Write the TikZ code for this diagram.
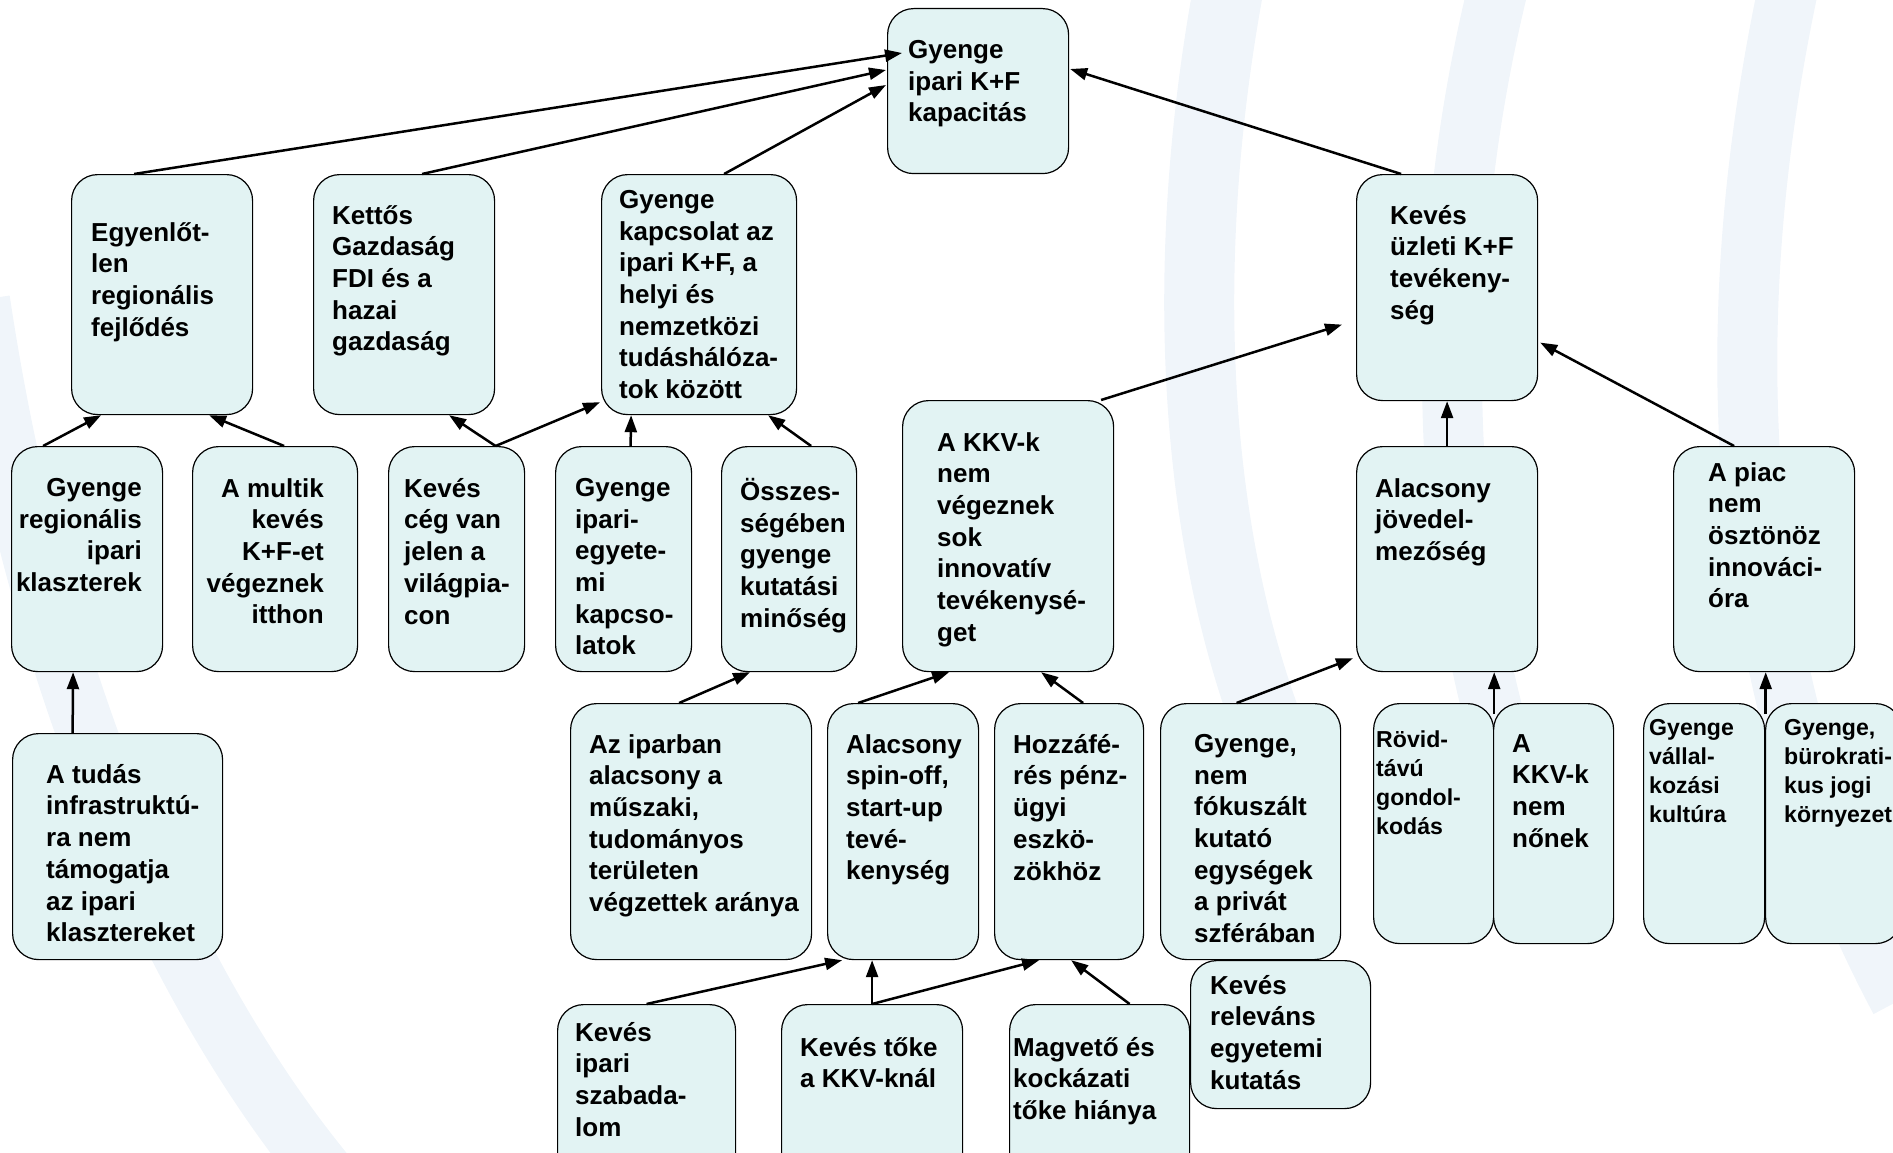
\documentclass[tikz,border=0pt]{standalone}
\usepackage{fontspec}
\setmainfont{Liberation Sans}
\usetikzlibrary{arrows.meta,calc}
\definecolor{cellfill}{RGB}{226,243,243}
\definecolor{wmblue}{RGB}{240,245,250}
\tikzset{
  cell/.style={draw=black, line width=1.2pt, rounded corners=26pt, fill=cellfill,
    inner sep=0pt, anchor=north west},
  lbl/.style={inner sep=0pt, anchor=north west, align=left, yshift=-3pt,
    font=\bfseries\fontsize{26}{31.7}\selectfont, execute at begin node=\strut},
  lblr/.style={lbl, anchor=north east, align=right},
  lbls/.style={lbl, font=\bfseries\fontsize{23.1}{29}\selectfont},
  link/.style={line width=2.5pt, -{Triangle[length=17pt,width=12pt]}}
}
\begin{document}
\begin{tikzpicture}[x=1pt,y=-1pt]
\useasboundingbox (0,0) rectangle (1893,1153);
\clip (0,0) rectangle (1893,1153);
% faint background swooshes
\draw[wmblue, line width=60pt] (-20,300) .. controls (40,700) and (180,1000) .. (330,1180);
\draw[wmblue, line width=70pt] (1230,-20) .. controls (1170,300) and (1200,600) .. (1300,800);
\draw[wmblue, line width=60pt] (1500,-20) .. controls (1420,300) and (1440,650) .. (1560,900);
\draw[wmblue, line width=60pt] (1790,-20) .. controls (1710,350) and (1740,700) .. (1900,1000);
% top
\node[cell, minimum width=181pt, minimum height=165pt] (top) at (887,8) {};
\node[lbl] at (908,37) {Gyenge\\ipari K+F\\kapacitás};
% second row
\node[cell, minimum width=181pt, minimum height=240pt] (egy) at (71,174) {};
\node[lbl] at (91,219) {Egyenlőt-\\len\\regionális\\fejlődés};
\node[cell, minimum width=181pt, minimum height=240pt] (kettos) at (313,174) {};
\node[lbl] at (332,202) {Kettős\\Gazdaság\\FDI és a\\hazai\\gazdaság};
\node[cell, minimum width=195pt, minimum height=240pt] (kapcs) at (601,174) {};
\node[lbl] at (619,187) {Gyenge\\kapcsolat az\\ipari K+F, a\\helyi és\\nemzetközi\\tudáshálóza-\\tok között};
\node[cell, minimum width=181pt, minimum height=226pt] (uzl) at (1356,174) {};
\node[lbl] at (1390,202) {Kevés\\üzleti K+F\\tevékeny-\\ség};
% third row
\node[cell, minimum width=151pt, minimum height=225pt] (reg) at (11,446) {};
\node[lblr] at (142,475) {Gyenge\\regionális\\ipari\\klaszterek};
\node[cell, minimum width=165pt, minimum height=225pt] (multik) at (192,446) {};
\node[lblr] at (324,475) {A multik\\kevés\\K+F-et\\végeznek\\itthon};
\node[cell, minimum width=136pt, minimum height=225pt] (ceg) at (388,446) {};
\node[lbl] at (404,475) {Kevés\\cég van\\jelen a\\világpia-\\con};
\node[cell, minimum width=136pt, minimum height=225pt] (egyet) at (555,446) {};
\node[lbl] at (575,475) {Gyenge\\ipari-\\egyete-\\mi\\kapcso-\\latok};
\node[cell, minimum width=135pt, minimum height=225pt] (osszes) at (721,446) {};
\node[lbl] at (740,475) {Összes-\\ségében\\gyenge\\kutatási\\minőség};
\node[cell, minimum width=211pt, minimum height=271pt] (kkv) at (902,400) {};
\node[lbl] at (937,429) {A KKV-k\\nem\\végeznek\\sok\\innovatív\\tevékenysé-\\get};
\node[cell, minimum width=181pt, minimum height=225pt] (jov) at (1356,446) {};
\node[lbl] at (1375,475) {Alacsony\\jövedel-\\mezőség};
\node[cell, minimum width=181pt, minimum height=225pt] (piac) at (1673,446) {};
\node[lbl] at (1708,459) {A piac\\nem\\ösztönöz\\innováci-\\óra};
% fourth row
\node[cell, minimum width=210pt, minimum height=226pt] (tudas) at (12,733) {};
\node[lbl] at (46,761) {A tudás\\infrastruktú-\\ra nem\\támogatja\\az ipari\\klasztereket};
\node[cell, minimum width=241pt, minimum height=256pt] (iparban) at (570,703) {};
\node[lbl] at (589,731) {Az iparban\\alacsony a\\műszaki,\\tudományos\\területen\\végzettek aránya};
\node[cell, minimum width=151pt, minimum height=256pt] (spin) at (827,703) {};
\node[lbl] at (846,731) {Alacsony\\spin-off,\\start-up\\tevé-\\kenység};
\node[cell, minimum width=149pt, minimum height=256pt] (hozza) at (994,703) {};
\node[lbl] at (1013,731) {Hozzáfé-\\rés pénz-\\ügyi\\eszkö-\\zökhöz};
\node[cell, minimum width=180pt, minimum height=256pt] (fokusz) at (1160,703) {};
\node[lbl] at (1194,731) {Gyenge,\\nem\\fókuszált\\kutató\\egységek\\a privát\\szférában};
\node[cell, minimum width=120pt, minimum height=240pt] (rovid) at (1373,703) {};
\node[lbls] at (1376,728) {Rövid-\\távú\\gondol-\\kodás};
\node[cell, minimum width=120pt, minimum height=240pt] (nonek) at (1493,703) {};
\node[lbl] at (1512,731) {A\\KKV-k\\nem\\nőnek};
\node[cell, minimum width=121pt, minimum height=240pt] (vallalk) at (1643,703) {};
\node[lbls] at (1649,716) {Gyenge\\vállal-\\kozási\\kultúra};
\node[cell, minimum width=136pt, minimum height=240pt] (burok) at (1765,703) {};
\node[lbls] at (1784,716) {Gyenge,\\bürokrati-\\kus jogi\\környezet};
% fifth row
\node[cell, minimum width=178pt, minimum height=176pt] (szab) at (557,1004) {};
\node[lbl] at (575,1019) {Kevés\\ipari\\szabada-\\lom};
\node[cell, minimum width=181pt, minimum height=176pt] (toke) at (781,1004) {};
\node[lbl] at (800,1034) {Kevés tőke\\a KKV-knál};
\node[cell, minimum width=180pt, minimum height=176pt] (mag) at (1009,1004) {};
\node[lbl] at (1013,1034) {Magvető és\\kockázati\\tőke hiánya};
\node[cell, minimum width=180pt, minimum height=148pt] (relev) at (1190,960) {};
\node[lbl] at (1210,972) {Kevés\\releváns\\egyetemi\\kutatás};
% arrows
\draw[link] ($(egy.north)+(-28,0)$) -- ($(top.north west)+(15,45)$);
\draw[link] ($(kettos.north)+(18,0)$) -- ($(top.north west)+(-1,62)$);
\draw[link] ($(kapcs.north)+(25,0)$) -- ($(top.north west)+(-1,77)$);
\draw[link] ($(uzl.north)+(-46,0)$) -- ($(top.north east)+(1,61)$);
\draw[link] ($(reg.north)+(-44,0)$) -- ($(egy.south)+(-61,0)$);
\draw[link] ($(multik.north)+(9,0)$) -- ($(egy.south)+(47,0)$);
\draw[link] ($(ceg.north)+(39,0)$) -- ($(kettos.south)+(45,0)$);
\draw[link] ($(ceg.north)+(39,0)$) -- ($(kapcs.south west)+(-1,-13)$);
\draw[link] ($(egyet.north)+(7,0)$) -- ($(kapcs.south)+(-68,0)$);
\draw[link] ($(osszes.north)+(22,0)$) -- ($(kapcs.south)+(69,0)$);
\draw[link] ($(kkv.north)+(93,0)$) -- ($(uzl.west)+(-14,37)$);
\draw[link] (jov.north) -- (uzl.south);
\draw[link] ($(piac.north)+(-30,0)$) -- ($(uzl.east)+(2,55)$);
\draw[link] ($(tudas.north)+(-45,0)$) -- ($(reg.south)+(-14,0)$);
\draw[link] ($(iparban.north)+(-12,0)$) -- ($(osszes.south)+(-39,0)$);
\draw[link] ($(spin.north)+(-45,0)$) -- ($(kkv.south)+(-59,0)$);
\draw[link] ($(hozza.north)+(14,0)$) -- ($(kkv.south)+(33,0)$);
\draw[link] ($(fokusz.north)+(-14,0)$) -- ($(jov.south west)+(-3,-14)$);
\coordinate (rvjoin) at ($(rovid.north east)+(0,11)$);
\draw[link] (rvjoin) -- (rvjoin |- jov.south);
\coordinate (vbjoin) at ($(vallalk.north east)+(0.5,11)$);
\draw[link] (vbjoin) -- (vbjoin |- piac.south);
\draw[link] (szab.north) -- ($(spin.south)+(-61,0)$);
\draw[link] (toke.north) -- (toke.north |- spin.south);
\draw[link] (toke.north) -- ($(hozza.south)+(-30,0)$);
\draw[link] ($(mag.north)+(30,0)$) -- ($(hozza.south)+(2,0)$);
\end{tikzpicture}
\end{document}
